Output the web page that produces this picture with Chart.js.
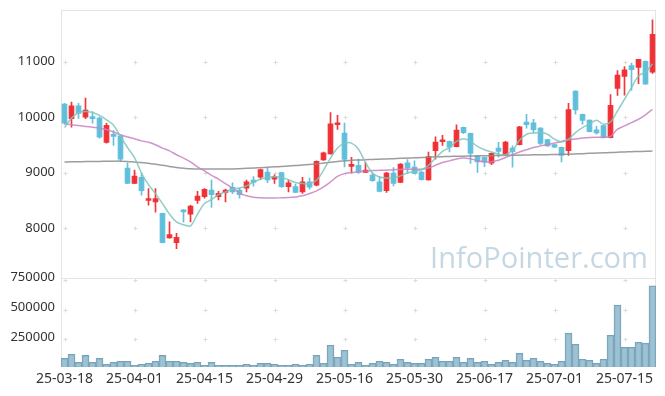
<!DOCTYPE html>
<html>
<head>
<meta charset="utf-8">
<script src="https://cdn.jsdelivr.net/npm/chart.js@4.4.1/dist/chart.umd.min.js"></script>
<style>
  html, body { margin: 0; padding: 0; background: #fff; }
  #wrap { width: 665px; height: 396px; position: relative; }
</style>
</head>
<body>
<div id="wrap"><canvas id="chart" width="665" height="396"></canvas></div>
<script>
const dates = [
  "25-03-18","25-03-19","25-03-20","25-03-21","25-03-24","25-03-25","25-03-26","25-03-27","25-03-28","25-03-31",
  "25-04-01","25-04-02","25-04-03","25-04-04","25-04-07","25-04-08","25-04-09","25-04-10","25-04-11","25-04-14",
  "25-04-15","25-04-16","25-04-17","25-04-18","25-04-21","25-04-22","25-04-23","25-04-24","25-04-25","25-04-28",
  "25-04-29","25-04-30","25-05-02","25-05-07","25-05-08","25-05-09","25-05-12","25-05-13","25-05-14","25-05-15",
  "25-05-16","25-05-19","25-05-20","25-05-21","25-05-22","25-05-23","25-05-26","25-05-27","25-05-28","25-05-29",
  "25-05-30","25-06-02","25-06-04","25-06-05","25-06-09","25-06-10","25-06-11","25-06-12","25-06-13","25-06-16",
  "25-06-17","25-06-18","25-06-19","25-06-20","25-06-23","25-06-24","25-06-25","25-06-26","25-06-27","25-06-30",
  "25-07-01","25-07-02","25-07-03","25-07-04","25-07-07","25-07-08","25-07-09","25-07-10","25-07-11","25-07-14",
  "25-07-15","25-07-16","25-07-17","25-07-18","25-07-21"
];

const opens = [
  10235, 9970, 10200, 9995, 10005, 9980, 9540, 9665, 9660, 9080,
  8805, 8915, 8495, 8470, 8265, 7820, 7735, 8325, 8250, 8495,
  8565, 8685, 8565, 8640, 8735, 8685, 8720, 8865, 8915, 9010,
  8880, 9000, 8745, 8745, 8650, 8830, 8770, 9225, 9335, 9860,
  9710, 9110, 9130, 9000, 8955, 8830, 8675, 8990, 8820, 9175,
  9100, 9010, 8865, 9395, 9555, 9560, 9465, 9815, 9705, 9295,
  9275, 9170, 9440, 9320, 9440, 9500, 9910, 9895, 9800, 9595,
  9505, 9455, 9395, 10465, 10050, 9945, 9770, 9845, 9630, 10515,
  10730, 10925, 10895, 11005, 10810
];
const highs = [
  10245, 10270, 10245, 10340, 10100, 10005, 9890, 9755, 9665, 9175,
  9045, 8985, 8710, 8710, 8270, 8110, 7905, 8330, 8410, 8660,
  8710, 8865, 8660, 8700, 8815, 8720, 8865, 8925, 9060, 9080,
  8960, 9005, 8865, 8790, 8915, 8900, 9210, 9370, 10080, 10030,
  9890, 9275, 9240, 9180, 8995, 8925, 9005, 9090, 9160, 9235,
  9210, 9020, 9370, 9645, 9670, 9565, 9860, 9820, 9710, 9300,
  9280, 9350, 9545, 9560, 9480, 9830, 10050, 9960, 9810, 9600,
  9510, 9460, 10245, 10470, 10055, 9950, 9830, 9850, 10405, 10835,
  10910, 10970, 11040, 11010, 11750
];
const lows = [
  9870, 9815, 9975, 9970, 9890, 9620, 9530, 9490, 9200, 8800,
  8800, 8590, 8410, 8285, 7730, 7815, 7630, 8105, 8110, 8445,
  8540, 8370, 8505, 8470, 8620, 8540, 8650, 8755, 8875, 8815,
  8805, 8730, 8650, 8635, 8625, 8700, 8760, 9220, 9330, 9775,
  9100, 8990, 8985, 8995, 8840, 8650, 8640, 8760, 8815, 8985,
  8975, 8860, 8860, 9240, 9490, 9370, 9460, 9700, 9165, 9000,
  9105, 9140, 9275, 9315, 9095, 9495, 9800, 9720, 9500, 9470,
  9450, 9190, 9310, 10050, 9870, 9730, 9690, 9625, 9625, 10390,
  10395, 10480, 10600, 10590, 10785
];
const closes = [
  9890, 10200, 10065, 10125, 9970, 9635, 9850, 9650, 9240, 8805,
  8935, 8675, 8530, 8530, 7735, 7880, 7830, 8290, 8395, 8575,
  8695, 8600, 8625, 8685, 8650, 8600, 8830, 8820, 9055, 8865,
  8925, 8745, 8815, 8640, 8830, 8735, 9200, 9355, 9875, 9890,
  9235, 9120, 9000, 9045, 8855, 8660, 8990, 8805, 9150, 9080,
  8985, 8870, 9285, 9550, 9565, 9455, 9765, 9720, 9345, 9190,
  9190, 9345, 9380, 9550, 9375, 9825, 9860, 9770, 9525, 9480,
  9455, 9310, 10135, 10130, 9940, 9735, 9715, 9630, 10210, 10755,
  10850, 10855, 11040, 10590, 11490
];

const ma5 = [
  9810, 9980, 10080, 10100, 10080, 10030, 9950, 9850, 9650, 9450,
  9270, 8990, 8780, 8620, 8440, 8250, 8110, 8060, 8040, 8250,
  8440, 8510, 8600, 8650, 8700, 8720, 8760, 8830, 8880, 8910,
  8925, 8910, 8870, 8820, 8800, 8800, 8860, 9040, 9260, 9440,
  9530, 9530, 9420, 9180, 8990, 8920, 8900, 8900, 8940, 8990,
  9020, 9050, 9130, 9260, 9380, 9450, 9560, 9610, 9560, 9470,
  9410, 9370, 9330, 9320, 9400, 9580, 9690, 9710, 9720, 9690,
  9600, 9550, 9600, 9720, 9810, 9870, 9940, 9870, 9910, 10110,
  10320, 10530, 10740, 10810, 10960
];
const ma20 = [
  9880, 9860, 9845, 9830, 9815, 9800, 9775, 9730, 9680, 9640,
  9610, 9570, 9545, 9500, 9440, 9390, 9320, 9260, 9190, 9100,
  9030, 8950, 8880, 8800, 8720, 8630, 8580, 8555, 8545, 8540,
  8540, 8545, 8550, 8560, 8580, 8620, 8670, 8740, 8830, 8930,
  8980, 9000, 9015, 9025, 9035, 9040, 9045, 9050, 9055, 9060,
  9060, 9060, 9080, 9130, 9180, 9210, 9245, 9260, 9245, 9215,
  9190, 9195, 9220, 9270, 9320, 9370, 9410, 9450, 9480, 9505,
  9530, 9560, 9590, 9605, 9620, 9630, 9634, 9634, 9650, 9780,
  9840, 9900, 9960, 10040, 10140
];
const ma120 = [
  9190, 9192, 9195, 9197, 9198, 9200, 9202, 9205, 9205, 9200,
  9190, 9180, 9165, 9150, 9130, 9110, 9090, 9075, 9068, 9063,
  9062, 9062, 9062, 9063, 9065, 9070, 9075, 9080, 9088, 9095,
  9102, 9110, 9118, 9125, 9135, 9145, 9155, 9170, 9185, 9200,
  9210, 9220, 9225, 9230, 9235, 9240, 9245, 9250, 9255, 9260,
  9265, 9270, 9275, 9280, 9285, 9290, 9292, 9295, 9297, 9300,
  9302, 9304, 9306, 9308, 9310, 9312, 9315, 9318, 9320, 9322,
  9325, 9328, 9330, 9335, 9340, 9345, 9350, 9355, 9360, 9365,
  9370, 9375, 9378, 9382, 9387
];

const volumes = [
  73000, 107000, 39000, 98000, 39000, 73000, 23000, 39000, 48000, 48000,
  14000, 23000, 31000, 48000, 98000, 48000, 48000, 39000, 31000, 39000,
  14000, 39000, 14000, 14000, 14000, 14000, 23000, 14000, 31000, 31000,
  23000, 14000, 14000, 23000, 14000, 23000, 98000, 31000, 183000, 82000,
  141000, 23000, 39000, 14000, 31000, 48000, 39000, 23000, 65000, 39000,
  31000, 31000, 65000, 82000, 48000, 48000, 82000, 39000, 73000, 39000,
  48000, 23000, 39000, 56000, 39000, 115000, 56000, 73000, 48000, 31000,
  23000, 48000, 284000, 191000, 65000, 56000, 31000, 65000, 267000, 520000,
  166000, 166000, 208000, 200000, 683000
];

const priceTicks = [8000, 9000, 10000, 11000];
const volumeTicks = [250000, 500000, 750000];

const UP = "rgba(238,44,50,0.95)";
const DOWN = "rgba(94,190,218,0.95)";
const FONT = "'Noto Sans', sans-serif";

const candleColors = opens.map((o, i) => closes[i] >= o ? UP : DOWN);

// watermark, "+" grid marks and panel frames
const framePlugin = {
  id: "frame",
  beforeDatasetsDraw(chart) {
    const { ctx, chartArea: a, scales } = chart;
    const x = scales.x, y = scales.y, v = scales.v;
    ctx.save();

    // watermark
    const text = "InfoPointer.com";
    ctx.font = "32px 'Open Sans', sans-serif";
    const w = ctx.measureText(text).width;
    const size = 32 * 218 / w;
    ctx.font = size + "px 'Open Sans', sans-serif";
    ctx.fillStyle = "rgba(188,208,223,0.85)";
    ctx.textAlign = "right";
    ctx.textBaseline = "alphabetic";
    ctx.fillText(text, 648, y.bottom - 10);

    // plus marks
    ctx.strokeStyle = "#dcdcdc";
    ctx.lineWidth = 1;
    const ys = priceTicks.map(t => y.getPixelForValue(t)).concat(volumeTicks.map(t => v.getPixelForValue(t) + 2));
    for (let i = 0; i < dates.length; i += 10) {
      const px = Math.round(x.getPixelForValue(i)) + 0.5;
      ys.forEach(py => {
        const qy = Math.round(py) + 0.5;
        ctx.beginPath();
        ctx.moveTo(px - 2, qy); ctx.lineTo(px + 2, qy);
        ctx.moveTo(px, qy - 2); ctx.lineTo(px, qy + 2);
        ctx.stroke();
      });
    }

    // frames
    ctx.strokeStyle = "#e4e4e4";
    ctx.strokeRect(a.left + 0.5, Math.round(y.top) + 0.5, a.right - a.left - 1, Math.round(y.bottom - y.top));
    ctx.strokeRect(a.left + 0.5, Math.round(v.top) + 0.5, a.right - a.left - 1, Math.round(v.bottom - v.top) - 1);
    ctx.restore();
  }
};

const tickFont = { family: FONT, size: 13 };
const plainNumber = val => String(val);
const noPadding = s => { s.paddingTop = 0; s.paddingBottom = 0; s.paddingLeft = 0; s.paddingRight = 0; };

new Chart(document.getElementById("chart"), {
  data: {
    labels: dates,
    datasets: [
      { type: "line", data: ma5, yAxisID: "y", borderColor: "rgba(125,198,188,0.85)", borderWidth: 1.5, pointRadius: 0, tension: 0.35, order: 0 },
      { type: "line", data: ma20, yAxisID: "y", borderColor: "rgba(200,130,196,0.85)", borderWidth: 1.5, pointRadius: 0, tension: 0.35, order: 0 },
      { type: "line", data: ma120, yAxisID: "y", borderColor: "rgba(140,140,140,0.85)", borderWidth: 1.5, pointRadius: 0, tension: 0.35, order: 0 },
      { type: "bar", data: opens.map((o, i) => [o, closes[i]]), yAxisID: "y", backgroundColor: candleColors, barThickness: 5, minBarLength: 2, grouped: false, order: 1 },
      { type: "bar", data: lows.map((l, i) => [l, highs[i]]), yAxisID: "y", backgroundColor: candleColors, barThickness: 1, grouped: false, order: 2 },
      { type: "bar", data: volumes, yAxisID: "v", backgroundColor: "rgba(140,183,203,0.85)", borderColor: "rgba(105,152,176,0.9)", borderWidth: 1, barPercentage: 1, categoryPercentage: 1, grouped: false, order: 3 }
    ]
  },
  options: {
    responsive: false,
    animation: false,
    layout: { padding: { left: 0, right: 9, top: 10, bottom: 0 } },
    plugins: { legend: { display: false }, tooltip: { enabled: false } },
    scales: {
      x: {
        type: "category",
        offset: true,
        grid: { display: false, drawTicks: false },
        border: { display: false },
        ticks: {
          autoSkip: false, maxRotation: 0, padding: 4, color: "#333", font: { family: FONT, size: 14 },
          callback: (val, i) => i % 10 === 0 ? dates[i] : null
        },
        afterFit: s => { noPadding(s); s.height = 29; }
      },
      v: {
        type: "linear", position: "left", stack: "panels", stackWeight: 1,
        min: 0, max: 750000,
        grid: { display: false, drawTicks: false },
        border: { display: false },
        ticks: { padding: 6, color: "#333", font: tickFont, callback: plainNumber },
        afterBuildTicks: s => { s.ticks = volumeTicks.map(t => ({ value: t })); },
        afterFit: s => { noPadding(s); s.width = 61; }
      },
      y: {
        type: "linear", position: "left", stack: "panels", stackWeight: 3,
        min: 7104, max: 11928,
        grid: { display: false, drawTicks: false },
        border: { display: false },
        ticks: { padding: 6, color: "#333", font: tickFont, callback: plainNumber },
        afterBuildTicks: s => { s.ticks = priceTicks.map(t => ({ value: t })); },
        afterFit: s => { noPadding(s); s.width = 61; }
      }
    }
  },
  plugins: [framePlugin]
});
</script>
</body>
</html>
